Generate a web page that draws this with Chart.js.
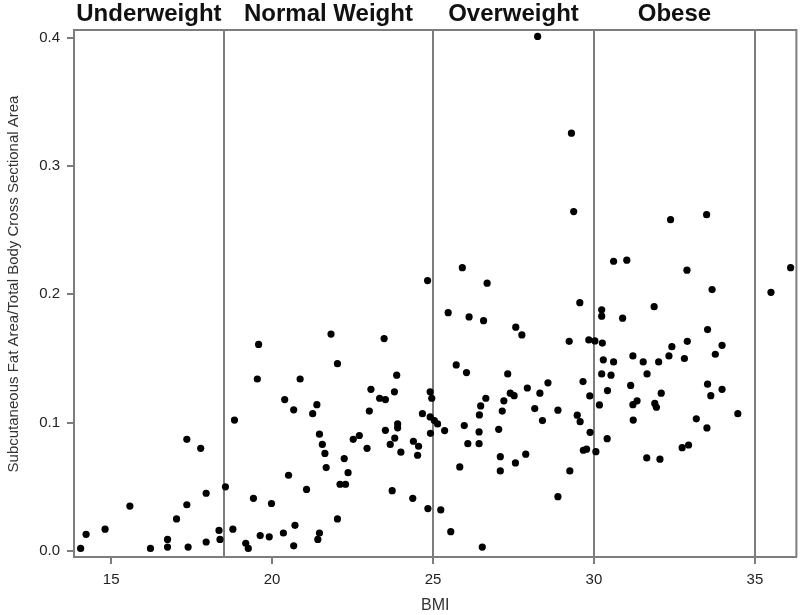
<!DOCTYPE html>
<html>
<head>
<meta charset="utf-8">
<script src="https://cdn.jsdelivr.net/npm/chart.js@4/dist/chart.umd.min.js"></script>
<style>
  html, body { margin: 0; padding: 0; background: #fff; }
  #wrap { width: 800px; height: 615px; }
</style>
</head>
<body>
<div id="wrap"><canvas id="c" width="800" height="615"></canvas></div>
<script>
const bmi = [
  14.05, 14.22, 14.81, 15.58, 16.22, 16.75, 16.75, 17.03, 17.35, 17.35, 17.39, 17.78, 17.95, 17.95, 18.35, 18.38,
  18.55, 18.83, 18.78, 19.18, 19.26, 19.42, 19.63, 19.91, 19.98, 20.35, 20.51, 20.67, 20.71, 21.07, 21.42, 21.47,
  21.47, 21.56, 21.64, 21.68, 22.03, 22.11, 22.28, 22.24, 22.36, 22.52, 22.71, 22.95, 23.52, 23.67, 23.73, 23.81,
  23.90, 23.90, 24.00, 19.58, 21.83, 23.48, 22.03, 19.54, 20.87, 23.87, 20.39, 23.07, 23.34, 23.52, 23.80, 20.67,
  21.39, 21.26, 23.02, 24.39, 24.55, 24.52, 24.37, 24.84, 24.92, 24.83, 24.91, 24.96, 24.67, 24.91,
  25.04, 25.14, 25.24, 25.36, 25.55, 25.83, 25.97, 26.08, 26.43, 26.43, 26.53, 27.04, 27.09, 27.09, 27.56, 27.88,
  28.40, 28.88, 29.25, 29.57, 29.67, 29.77, 29.88, 25.91, 26.68, 25.47, 26.12, 26.57, 29.56, 27.57, 27.76, 29.23,
  29.84, 25.72, 26.04, 27.32, 27.93, 28.57, 29.66, 28.32, 27.40, 27.52, 26.64, 26.48, 27.20, 27.15, 26.44, 28.16,
  28.88, 29.87, 29.48, 28.25, 29.30, 29.37,
  30.06, 30.41, 31.22, 31.64, 32.05, 32.74, 32.94, 33.18, 33.51, 30.03, 30.24, 30.24, 30.26, 30.29, 30.24, 30.17,
  30.61, 31.02, 32.89, 33.67, 35.50, 36.11, 30.89, 31.87, 33.53, 32.90, 32.42, 33.98, 32.33, 32.81, 33.77, 30.61,
  31.21, 31.53, 32.01, 30.53, 31.65, 31.14, 30.42, 32.09, 33.53, 33.98, 33.63, 31.21, 31.34, 31.89, 31.94, 34.47,
  32.38, 33.50
];
const fatRatio = [
  0.002, 0.013, 0.017, 0.035, 0.002, 0.009, 0.003, 0.025, 0.087, 0.036, 0.003, 0.080, 0.045, 0.007, 0.016, 0.009,
  0.050, 0.102, 0.017, 0.006, 0.002, 0.041, 0.012, 0.011, 0.037, 0.014, 0.059, 0.004, 0.020, 0.048, 0.009, 0.014,
  0.091, 0.083, 0.076, 0.065, 0.025, 0.052, 0.052, 0.072, 0.061, 0.087, 0.090, 0.080, 0.094, 0.083, 0.047, 0.088,
  0.099, 0.096, 0.077, 0.161, 0.169, 0.1655, 0.146, 0.134, 0.134, 0.137, 0.118, 0.126, 0.119, 0.118, 0.124, 0.110,
  0.114, 0.107, 0.109, 0.0855, 0.0816, 0.0746, 0.041, 0.033, 0.0917, 0.2107, 0.124, 0.119, 0.107, 0.1045,
  0.1016, 0.099, 0.032, 0.0938, 0.015, 0.0655, 0.0977, 0.0836, 0.0928, 0.0836, 0.003, 0.0948, 0.0735, 0.0624, 0.0686, 0.0754,
  0.1016, 0.0423, 0.0624, 0.1008, 0.0785, 0.0793, 0.0925, 0.2208, 0.2087, 0.1857, 0.1824, 0.1795, 0.1935, 0.1744, 0.1684, 0.1634,
  0.1645, 0.145, 0.139, 0.138, 0.127, 0.131, 0.132, 0.123, 0.123, 0.121, 0.119, 0.113, 0.117, 0.109, 0.106, 0.111,
  0.1097, 0.1208, 0.1058, 0.401, 0.3256, 0.2645,
  0.0774, 0.0875, 0.102, 0.0725, 0.0715, 0.0805, 0.0826, 0.103, 0.0959, 0.1637, 0.188, 0.183, 0.162, 0.149, 0.138, 0.1138,
  0.2258, 0.2266, 0.2188, 0.2037, 0.2016, 0.2208, 0.1814, 0.1904, 0.1725, 0.1634, 0.1592, 0.1603, 0.152, 0.150, 0.1533, 0.1473,
  0.152, 0.1473, 0.1473, 0.137, 0.138, 0.129, 0.125, 0.123, 0.130, 0.126, 0.121, 0.114, 0.117, 0.115, 0.112, 0.107,
  0.2582, 0.2621
];
const xTicks = [15, 20, 25, 30, 35];
const yTicks = [0.0, 0.1, 0.2, 0.3, 0.4];
const cutoffs = [18.5, 25, 30, 35];
const categoryLabels = ['Underweight', 'Normal Weight', 'Overweight', 'Obese'];
const xTitle = 'BMI';
const yTitle = 'Subcutaneous Fat Area/Total Body Cross Sectional Area';

const FONT = '"Liberation Sans", Arial, Helvetica, sans-serif';
const LINE = '#7d7d7d';

const points = bmi.map((x, i) => ({ x: x, y: fatRatio[i] }));

const overlay = {
  id: 'overlay',
  beforeDatasetsDraw(chart) {
    const { ctx, chartArea: a, scales: { x } } = chart;
    ctx.save();
    ctx.strokeStyle = LINE;
    ctx.lineWidth = 2;
    // frame top and right
    ctx.beginPath();
    ctx.moveTo(a.left, a.top);
    ctx.lineTo(a.right, a.top);
    ctx.lineTo(a.right, a.bottom);
    ctx.stroke();
    // cutoff lines
    cutoffs.forEach(v => {
      const px = Math.round(x.getPixelForValue(v));
      ctx.beginPath();
      ctx.moveTo(px, a.top);
      ctx.lineTo(px, a.bottom);
      ctx.stroke();
    });
    ctx.restore();
  },
  afterDraw(chart) {
    const { ctx, chartArea: a, scales: { x } } = chart;
    ctx.save();
    // category labels
    const bounds = [x.min].concat(cutoffs);
    ctx.fillStyle = '#111';
    ctx.font = 'bold 24px ' + FONT;
    ctx.textAlign = 'center';
    ctx.textBaseline = 'alphabetic';
    categoryLabels.forEach((t, i) => {
      const cx = (x.getPixelForValue(bounds[i]) + x.getPixelForValue(bounds[i + 1])) / 2;
      ctx.fillText(t, cx, 21);
    });
    // axis titles
    ctx.fillStyle = '#333';
    ctx.font = '16px ' + FONT;
    ctx.textBaseline = 'middle';
    ctx.fillText(xTitle, (a.left + a.right) / 2, 606);
    ctx.font = '15px ' + FONT;
    ctx.translate(14, 284);
    ctx.rotate(-Math.PI / 2);
    ctx.fillText(yTitle, 0, 0);
    ctx.restore();
  }
};

new Chart(document.getElementById('c'), {
  type: 'scatter',
  data: {
    datasets: [{
      data: points,
      pointRadius: 3.6,
      pointHoverRadius: 3.6,
      pointBackgroundColor: '#000',
      pointBorderWidth: 0,
      showLine: false
    }]
  },
  options: {
    responsive: false,
    animation: false,
    devicePixelRatio: 1,
    layout: { padding: { top: 30, right: 2, left: 0, bottom: 0 } },
    plugins: { legend: { display: false }, tooltip: { enabled: false } },
    scales: {
      x: {
        type: 'linear',
        min: 13.844,
        max: 36.29,
        afterFit(s) { s.height = 58; },
        afterBuildTicks(s) { s.ticks = xTicks.map(v => ({ value: v })); },
        grid: { display: true, drawOnChartArea: false, drawTicks: true, tickLength: 7, color: LINE, lineWidth: 2 },
        border: { display: true, color: LINE, width: 2 },
        ticks: { padding: 7, color: '#222', font: { family: FONT, size: 15 }, maxRotation: 0 }
      },
      y: {
        type: 'linear',
        min: -0.0047,
        max: 0.406,
        afterFit(s) { s.width = 74; },
        afterBuildTicks(s) { s.ticks = yTicks.map(v => ({ value: v })); },
        grid: { display: true, drawOnChartArea: false, drawTicks: true, tickLength: 7, color: LINE, lineWidth: 2 },
        border: { display: true, color: LINE, width: 2 },
        ticks: { padding: 7, color: '#222', font: { family: FONT, size: 15 }, callback: v => Number(v).toFixed(1) }
      }
    }
  },
  plugins: [overlay]
});
</script>
</body>
</html>
